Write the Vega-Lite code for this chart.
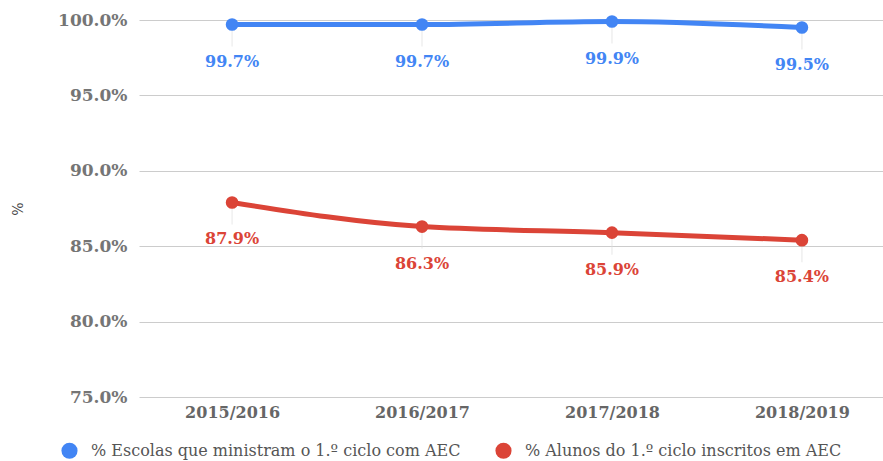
{
  "$schema": "https://vega.github.io/schema/vega-lite/v6.json",
  "width": 756,
  "height": 377,
  "autosize": {"type": "none"},
  "padding": {"left": 139, "top": 20, "right": 0, "bottom": 64},
  "background": "white",
  "config": {
    "view": {"stroke": null},
    "font": "DejaVu Serif"
  },
  "data": {
    "values": [
      {"year": "2015/2016", "series": "% Escolas que ministram o 1.º ciclo com AEC", "value": 0.997},
      {"year": "2016/2017", "series": "% Escolas que ministram o 1.º ciclo com AEC", "value": 0.997},
      {"year": "2017/2018", "series": "% Escolas que ministram o 1.º ciclo com AEC", "value": 0.999},
      {"year": "2018/2019", "series": "% Escolas que ministram o 1.º ciclo com AEC", "value": 0.995},
      {"year": "2015/2016", "series": "% Alunos do 1.º ciclo inscritos em AEC", "value": 0.879},
      {"year": "2016/2017", "series": "% Alunos do 1.º ciclo inscritos em AEC", "value": 0.863},
      {"year": "2017/2018", "series": "% Alunos do 1.º ciclo inscritos em AEC", "value": 0.859},
      {"year": "2018/2019", "series": "% Alunos do 1.º ciclo inscritos em AEC", "value": 0.854}
    ]
  },
  "encoding": {
    "x": {
      "field": "year", "type": "ordinal",
      "scale": {"type": "point", "padding": 0.49},
      "axis": {"title": null, "domain": false, "ticks": false, "grid": false, "labelAngle": 0,
               "labelFont": "DejaVu Serif", "labelFontWeight": "bold", "labelFontSize": 16,
               "labelColor": "#666666", "labelPadding": 7}
    },
    "y": {
      "field": "value", "type": "quantitative",
      "scale": {"domain": [0.75, 1.0], "nice": false, "zero": false},
      "axis": {"title": "%", "values": [0.75, 0.8, 0.85, 0.9, 0.95, 1.0], "format": ".1%",
               "domain": false, "ticks": false, "gridColor": "#cccccc",
               "labelFont": "DejaVu Serif", "labelFontWeight": "bold", "labelFontSize": 17,
               "labelColor": "#757575", "labelPadding": 12,
               "titleFont": "DejaVu Serif", "titleFontWeight": "normal", "titleFontSize": 14,
               "titleColor": "#444444", "titlePadding": 32}
    }
  },
  "layer": [
    {
      "mark": {"type": "tick", "orient": "vertical", "size": 22, "thickness": 1, "yOffset": 11, "color": "#dddddd"}
    },
    {
      "mark": {"type": "line", "strokeWidth": 5, "interpolate": "monotone"},
      "encoding": {
        "color": {
          "field": "series", "type": "nominal",
          "scale": {"domain": ["% Escolas que ministram o 1.º ciclo com AEC", "% Alunos do 1.º ciclo inscritos em AEC"],
                    "range": ["#4285F4", "#DB4437"]},
          "legend": {"orient": "none", "direction": "horizontal", "title": null,
                     "legendX": -78, "legendY": 422,
                     "symbolType": "circle", "symbolSize": 260, "symbolStrokeWidth": 0,
                     "labelFont": "DejaVu Serif", "labelFontSize": 16, "labelColor": "#555555",
                     "labelOffset": 13, "columnPadding": 34, "labelLimit": 600}
        }
      }
    },
    {
      "mark": {"type": "point", "filled": true, "size": 160, "opacity": 1},
      "encoding": {"color": {"field": "series", "type": "nominal"}}
    },
    {
      "mark": {"type": "text", "dy": 37, "fontWeight": "bold", "fontSize": 16, "font": "DejaVu Serif"},
      "encoding": {
        "text": {"field": "value", "type": "quantitative", "format": ".1%"},
        "color": {"field": "series", "type": "nominal"}
      }
    }
  ]
}
